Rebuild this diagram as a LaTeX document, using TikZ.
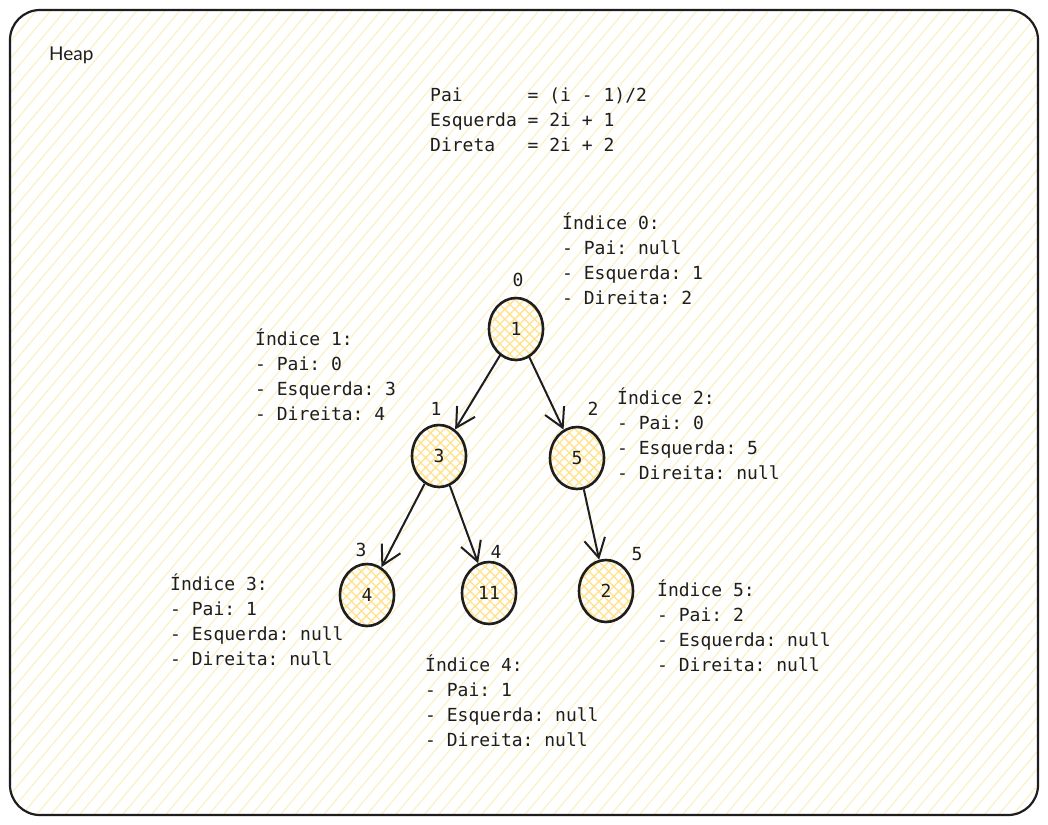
\documentclass[tikz,border=0pt]{standalone}
\usepackage{fontspec}
\setmonofont{DejaVu Sans Mono}
\newfontfamily\handfont{Lato}
\usetikzlibrary{arrows.meta,patterns.meta,shapes.geometric}
\definecolor{ink}{HTML}{1E1E1E}
\definecolor{bghatch}{HTML}{FBF0C2}
\definecolor{nodehatch}{HTML}{FFE28A}
\begin{document}
\begin{tikzpicture}[x=1pt,y=-1pt,
  txt/.style={font=\ttfamily\fontsize{18}{25}\selectfont, text=ink, align=left, inner sep=0pt, anchor=base west},
  idx/.style={font=\ttfamily\fontsize{18}{25}\selectfont, text=ink, inner sep=0pt, anchor=base},
  heapnode/.style={ellipse, draw=ink, line width=2.6pt, minimum width=54pt, minimum height=62pt, inner sep=0pt,
    preaction={fill=white}, pattern={Hatch[angle=45,distance=7pt,line width=1.3pt]}, pattern color=nodehatch,
    font=\ttfamily\fontsize{18}{22}\selectfont, text=ink},
  link/.style={draw=ink, line width=2pt, -{Straight Barb[length=19pt,width=21pt]}}]
\fill[white] (0,0) rectangle (1048,824);
\path[use as bounding box] (0,0) rectangle (1048,824);
\draw[ink, line width=2.2pt, rounded corners=30pt, preaction={fill=white},
  pattern={Lines[angle=50,distance=11pt,line width=1.1pt]}, pattern color=bghatch] (10,10) rectangle (1038,815);

\node[font=\handfont\fontsize{19}{22}\selectfont, text=ink, inner sep=0pt, anchor=base west] (title) at (49,61) {Heap};

% the base anchor of a multi-line node is the baseline of its last line
\node[txt] (formula) at (430,151) {Pai~~~~~~= (i - 1)/2\\Esquerda = 2i + 1\\Direta~~~= 2i + 2};

% nodes
\node[heapnode] (n0) at (516,329) {1};
\node[heapnode] (n1) at (439,456) {3};
\node[heapnode] (n2) at (577,458) {5};
\node[heapnode] (n3) at (367,595) {4};
\node[heapnode] (n4) at (489,593) {11};
\node[heapnode] (n5) at (606,591) {2};

% index labels
\node[idx] (i0) at (518,286) {0};
\node[idx] (i1) at (436,415) {1};
\node[idx] (i2) at (593,415) {2};
\node[idx] (i3) at (361,556) {3};
\node[idx] (i4) at (496,558) {4};
\node[idx] (i5) at (637,560) {5};

% info blocks
\node[txt] (b0) at (562,304) {Índice 0:\\- Pai: null\\- Esquerda: 1\\- Direita: 2};
\node[txt] (b1) at (255,420) {Índice 1:\\- Pai: 0\\- Esquerda: 3\\- Direita: 4};
\node[txt] (b2) at (617,479) {Índice 2:\\- Pai: 0\\- Esquerda: 5\\- Direita: null};
\node[txt] (b3) at (170,665) {Índice 3:\\- Pai: 1\\- Esquerda: null\\- Direita: null};
\node[txt] (b4) at (425,746) {Índice 4:\\- Pai: 1\\- Esquerda: null\\- Direita: null};
\node[txt] (b5) at (657,671) {Índice 5:\\- Pai: 2\\- Esquerda: null\\- Direita: null};

% edges
\draw[link] (n0) -- (n1);
\draw[link] (n0) -- (n2);
\draw[link] (n1) -- (n3);
\draw[link] (n1) -- (n4);
\draw[link] (n2) -- (n5);
\end{tikzpicture}
\end{document}
